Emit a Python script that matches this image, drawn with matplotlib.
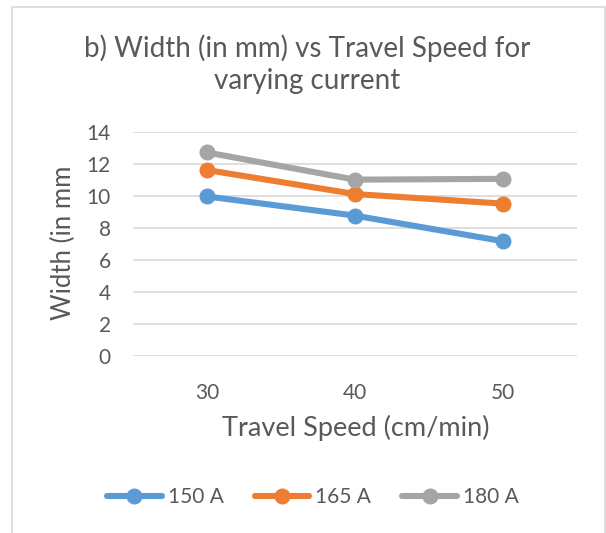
import matplotlib.pyplot as plt
from matplotlib.patches import Rectangle

speeds = ["30", "40", "50"]
series_names = ["150 A", "165 A", "180 A"]
width_150 = [9.95, 8.75, 7.15]
width_165 = [11.6, 10.1, 9.5]
width_180 = [12.7, 11.0, 11.05]
colors = ["#5B9BD5", "#ED7D31", "#A5A5A5"]

TEXT = "#595959"
GRID = "#D9D9D9"

plt.rcParams["font.family"] = ["Lato", "DejaVu Sans"]

fig = plt.figure(figsize=(6.06, 5.33), dpi=100)
W, H = 606, 533

# chart frame
fig.patches.append(Rectangle((12 / W, -0.05), (605 - 12) / W, 1 - 7 / H + 0.05,
                             transform=fig.transFigure, fill=False,
                             edgecolor=GRID, linewidth=1.2))

ax = fig.add_axes([133 / W, 1 - 355.5 / H, (577 - 133) / W, (355.5 - 131.7) / H])
x = range(len(speeds))
for vals, name, c in zip([width_150, width_165, width_180], series_names, colors):
    ax.plot(x, vals, color=c, linewidth=4.4, marker="o", markersize=10.5,
            solid_capstyle="round", label=name, zorder=3)

ax.set_xlim(-0.5, len(speeds) - 0.5)
ax.set_ylim(0, 14)
ax.set_yticks(range(0, 15, 2))
ax.set_xticks(list(x))
ax.set_xticklabels(speeds)
ax.grid(axis="y", color=GRID, linewidth=1.2, zorder=0)
for s in ax.spines.values():
    s.set_visible(False)
ax.tick_params(length=0, colors=TEXT, labelsize=15)
ax.tick_params(axis="x", pad=20)
ax.tick_params(axis="y", pad=16)

fig.text(307 / W, 1 - 64 / H, "b) Width (in mm) vs Travel Speed for\nvarying current",
         ha="center", va="center", fontsize=20, color=TEXT, linespacing=1.3)
fig.text(63 / W, 1 - 243 / H, "Width (in mm", rotation=90, ha="center", va="center",
         fontsize=18.5, color=TEXT)
fig.text(356 / W, 1 - 428 / H, "Travel Speed (cm/min)", ha="center", va="center",
         fontsize=19.5, color=TEXT)

handles, labels = ax.get_legend_handles_labels()
fig.legend(handles, labels, loc="center", bbox_to_anchor=(313 / W, 1 - 497 / H), ncol=3,
           frameon=False, fontsize=15, labelcolor=TEXT, handlelength=2.6,
           columnspacing=1.5, handletextpad=0.3)

fig.savefig("out.png", dpi=100)
